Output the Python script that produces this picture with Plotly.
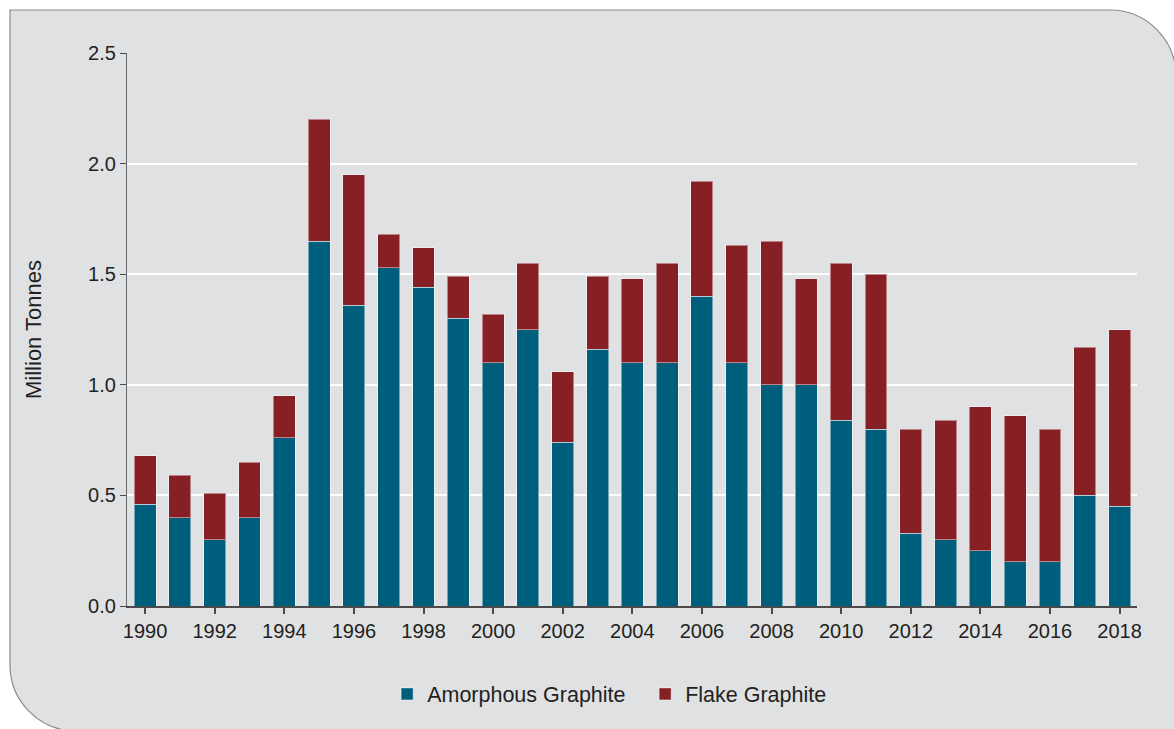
import plotly.graph_objects as go

years = list(range(1990, 2019))
totals = [0.68, 0.59, 0.51, 0.65, 0.95, 2.20, 1.95, 1.68, 1.62, 1.49,
          1.32, 1.55, 1.06, 1.49, 1.48, 1.55, 1.92, 1.63, 1.65, 1.48,
          1.55, 1.50, 0.80, 0.84, 0.90, 0.86, 0.80, 1.17, 1.25]
amorphous = [0.46, 0.40, 0.30, 0.40, 0.76, 1.65, 1.36, 1.53, 1.44, 1.30,
             1.10, 1.25, 0.74, 1.16, 1.10, 1.10, 1.40, 1.10, 1.00, 1.00,
             0.84, 0.80, 0.33, 0.30, 0.25, 0.20, 0.20, 0.50, 0.45]
flake = [round(t - a, 3) for t, a in zip(totals, amorphous)]
y_ticks = [0.0, 0.5, 1.0, 1.5, 2.0, 2.5]
x_ticks = list(range(1990, 2019, 2))

W, H = 1174, 729
ML, MR, MT, MB = 127, 37, 53, 123
PW, PH = W - ML - MR, H - MT - MB

def px(x):
    return (x - ML) / PW

def py(y):
    return (H - MB - y) / PH

# rounded background panel (pixel geometry converted to paper coords)
L, T, R, B, r = 10, 10, 1176, 731, 66
k = 0.5523 * r
path = (
    f"M {px(L)},{py(T)} "
    f"L {px(R - r)},{py(T)} "
    f"C {px(R - r + k)},{py(T)} {px(R)},{py(T + r - k)} {px(R)},{py(T + r)} "
    f"L {px(R)},{py(B)} "
    f"L {px(L + r)},{py(B)} "
    f"C {px(L + r - k)},{py(B)} {px(L)},{py(B - r + k)} {px(L)},{py(B - r)} "
    "Z"
)

font_family = "Liberation Sans, Arial, sans-serif"
txt = "#231f20"

fig = go.Figure()
fig.add_trace(go.Bar(x=years, y=amorphous, name="Amorphous Graphite",
                     marker=dict(color="#005e7d",
                                 line=dict(color="rgba(255,255,255,0.45)", width=1))))
fig.add_trace(go.Bar(x=years, y=flake, name="Flake Graphite",
                     marker=dict(color="#862025",
                                 line=dict(color="rgba(255,255,255,0.45)", width=1))))

fig.update_layout(
    width=W, height=H,
    barmode="stack", bargap=0.37,
    paper_bgcolor="white", plot_bgcolor="rgba(0,0,0,0)",
    margin=dict(l=ML, r=MR, t=MT, b=MB, autoexpand=False),
    font=dict(family=font_family, size=20, color=txt),
    shapes=[dict(type="path", path=path, xref="paper", yref="paper",
                 fillcolor="#e0e1e3", line=dict(color="#8a8a8a", width=1.2),
                 layer="below")],
    legend=dict(orientation="h", x=0.513, xanchor="center", y=-0.159, yanchor="middle",
                font=dict(size=21.5, color=txt), bgcolor="rgba(0,0,0,0)",
                itemwidth=30, traceorder="normal", entrywidth=213),
    xaxis=dict(range=[1989.48, 2018.5], tickvals=x_ticks,
               ticktext=[str(v) for v in x_ticks],
               showgrid=False, zeroline=False,
               showline=True, linecolor="#4a4a4a", linewidth=1.5,
               ticks="outside", ticklen=6, tickcolor="#4a4a4a", tickwidth=1.5,
               tickfont=dict(size=20, color=txt)),
    yaxis=dict(range=[0, 2.5], tickvals=y_ticks,
               ticktext=[f"{v:.1f}" for v in y_ticks],
               showgrid=True, gridcolor="white", gridwidth=1.5,
               zeroline=False,
               showline=True, linecolor="#6a6a6a", linewidth=1.2,
               ticks="outside", ticklen=6, tickcolor="#4a4a4a", tickwidth=1.2,
               tickfont=dict(size=20, color=txt),
               title=dict(text="Million Tonnes", font=dict(size=22, color=txt), standoff=40)),
)

fig.write_html("out.html", config={"displayModeBar": False},
               post_script="document.body.style.margin='0';document.body.style.overflow='hidden';")
